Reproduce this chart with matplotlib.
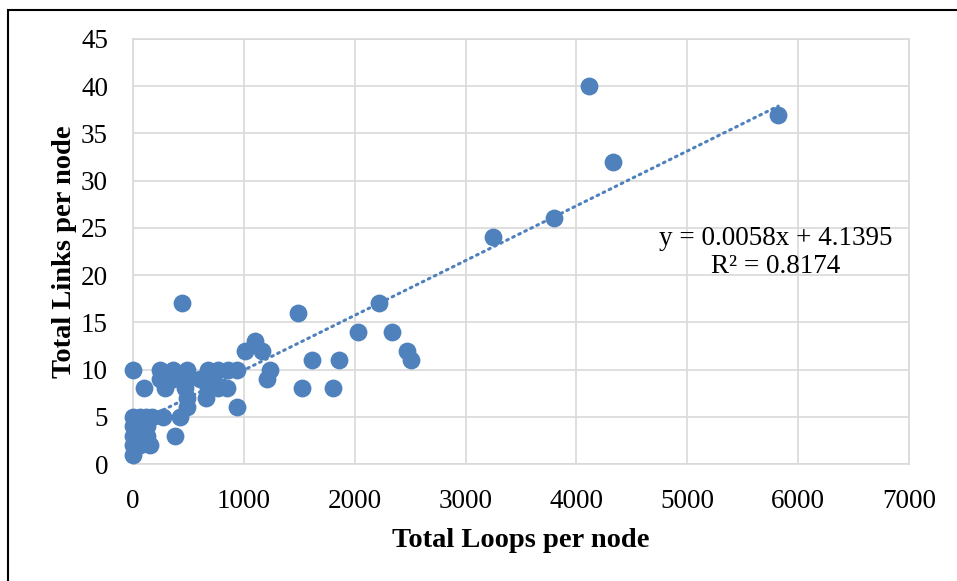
import numpy as np
import matplotlib
matplotlib.use("Agg")
import matplotlib.pyplot as plt
from matplotlib.patches import Rectangle

# total loops per node (x) vs total links per node (y)
loops = [5820, 4110, 4330, 3800, 3250, 2220, 2030, 2340, 2470, 2510,
         1860, 1615, 1490, 1520, 1805, 1100, 1165, 1010, 1240, 1210,
         935, 440, 0, 100,
         245, 365, 485, 680, 770, 855, 935,
         245, 365, 485, 605, 720,
         290, 470, 680, 770, 845,
         485, 660, 485,
         270, 425, 380,
         0, 60, 120, 170, 0, 60, 130, 0, 50, 130, 0, 60, 155, 0, 30]
links = [37, 40, 32, 26, 24, 17, 14, 14, 12, 11,
         11, 11, 16, 8, 8, 13, 12, 12, 10, 9,
         6, 17, 10, 8,
         10, 10, 10, 10, 10, 10, 10,
         9, 9, 9, 9, 9,
         8, 8, 8, 8, 8,
         7, 7, 6,
         5, 5, 3,
         5, 5, 5, 5, 4, 4, 4, 3, 3, 3, 2, 2, 2, 1, 2]

slope = 0.0058
intercept = 4.1395
r2 = 0.8174

xticks = list(range(0, 7001, 1000))
yticks = list(range(0, 46, 5))

blue = "#4F81BD"
grid = "#D9D9D9"
font = ["Liberation Serif", "DejaVu Serif"]
plt.rcParams["font.family"] = font

fig = plt.figure(figsize=(9.57, 5.81), dpi=100)
ax = fig.add_axes([133 / 957, 1 - 464 / 581, (909 - 133) / 957, (464 - 39) / 581])

ax.scatter(loops, links, s=165, color=blue, zorder=3, clip_on=False, linewidths=0)

xs = np.array([min(loops), max(loops)])
ax.plot(xs, slope * xs + intercept, color=blue, lw=2.2,
        linestyle=(0, (0.6, 1.6)), dash_capstyle="round", zorder=4)

ax.text(5800, 22.4, "y = %.4fx + %.4f\nR² = %.4f" % (slope, intercept, r2),
        ha="center", va="center", fontsize=19.5, linespacing=1.2, zorder=5)

ax.set_xlim(0, 7000)
ax.set_ylim(0, 45)
ax.set_xticks(xticks)
ax.set_yticks(yticks)
ax.tick_params(length=0, labelsize=19.5)
ax.tick_params(axis="y", pad=18)
ax.tick_params(axis="x", pad=18)
ax.grid(True, color=grid, lw=1.2, zorder=0)
ax.set_axisbelow(True)
for sp in ax.spines.values():
    sp.set_color(grid)
    sp.set_linewidth(1.2)

ax.set_xlabel("Total Loops per node", fontsize=20.5, fontweight="bold", labelpad=10)
ax.set_ylabel("Total Links per node", fontsize=20.5, fontweight="bold", labelpad=3)

# outer chart border
fig.patches.append(Rectangle((8 / 957, -0.05), 1.1, 1 - 10 / 581 + 0.05,
                             transform=fig.transFigure, fill=False,
                             edgecolor="black", lw=1.5))

fig.savefig("out.png", dpi=100)
